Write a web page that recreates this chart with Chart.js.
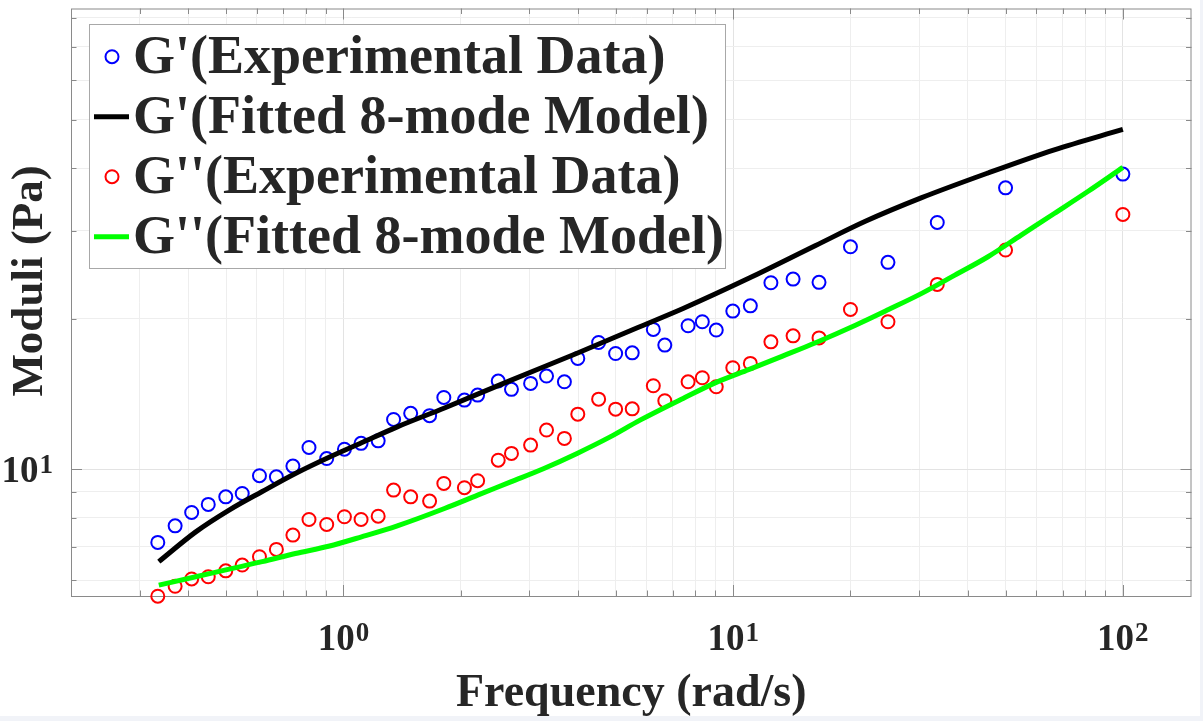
<!DOCTYPE html>
<html>
<head>
<meta charset="utf-8">
<script src="https://cdn.jsdelivr.net/npm/chart.js@4.4.1/dist/chart.umd.min.js"></script>
<style>
  html, body { margin: 0; padding: 0; background: #f1f3f8; }
  #wrap { width: 1200px; height: 716px; background: #fff; }
  canvas { display: block; }
</style>
</head>
<body>
<div id="wrap"><canvas id="moduliChart" width="1200" height="716"></canvas></div>
<script>
    // frequency (rad/s) of the measured points
    const freq = [0.334, 0.370, 0.408, 0.450, 0.499, 0.550, 0.609, 0.673, 0.742, 0.816, 0.906, 1.006, 1.110, 1.228, 1.345,
        1.488, 1.664, 1.810, 2.044, 2.210, 2.496, 2.699, 3.022, 3.320, 3.690, 3.994, 4.517, 4.994, 5.509, 6.240,
        6.678, 7.663, 8.335, 9.051, 9.98, 11.07, 12.50, 14.25, 16.61, 20.0, 24.96, 33.4, 50.0, 100];
    const gPrimeExp = [7.135, 7.70, 8.19, 8.50, 8.80, 8.94, 9.70, 9.65, 10.14, 11.05, 10.50, 10.96, 11.26, 11.39, 12.57,
        12.93, 12.79, 13.91, 13.74, 14.06, 15.00, 14.44, 14.84, 15.35, 14.95, 16.65, 17.92, 17.03, 17.08, 19.03,
        17.70, 19.35, 19.71, 18.97, 20.70, 21.21, 23.59, 23.99, 23.63, 27.84, 25.91, 31.14, 36.52, 38.90];
    const gDoublePrimeExp = [5.57, 5.83, 6.03, 6.09, 6.26, 6.43, 6.68, 6.91, 7.38, 7.93, 7.75, 8.03, 7.93, 8.05, 9.08,
        8.80, 8.63, 9.36, 9.18, 9.48, 10.42, 10.75, 11.17, 11.97, 11.52, 12.88, 13.80, 13.18, 13.20, 14.68,
        13.70, 14.95, 15.23, 14.61, 15.95, 16.27, 17.97, 18.47, 18.30, 20.86, 19.71, 23.41, 27.42, 32.31];

    // fitted 8-mode model curves
    const fitFreqG1 = [0.336, 0.418, 0.509, 0.619, 0.753, 0.916, 1.113, 1.375, 1.817, 2.687, 3.977, 5.657, 7.44, 11.0,
        16.28, 21.84, 30.47, 45.07, 66.68, 100];
    const gPrimeFit = [6.53, 7.49, 8.28, 9.02, 9.80, 10.55, 11.29, 12.15, 13.25, 15.05, 17.05, 19.15, 20.95, 24.1,
        28.0, 31.3, 34.9, 39.1, 43.5, 47.8];
    const fitFreqG2 = [0.336, 0.418, 0.509, 0.619, 0.753, 0.916, 1.113, 1.375, 1.817, 2.210, 2.687, 3.27, 3.977, 4.836,
        5.77, 7.44, 9.051, 11.0, 13.39, 16.28, 20.6, 25.05, 30.47, 37.07, 45.07, 54.83, 66.68, 81.1, 100];
    const gDoublePrimeFit = [5.86, 6.09, 6.31, 6.53, 6.78, 7.01, 7.32, 7.70, 8.34, 8.87, 9.43, 10.03, 10.75, 11.60,
        12.53, 13.85, 14.91, 15.83, 16.83, 17.9, 19.4, 20.85, 22.46, 24.43, 26.59, 29.38, 32.45, 35.86, 40.12];

    // ticks (grid) and the labelled decades
    const xTickValues = [0.3, 0.4, 0.5, 0.6, 0.7, 0.8, 0.9, 1, 2, 3, 4, 5, 6, 7, 8, 9, 10, 20, 30, 40, 50, 60, 70, 80, 90, 100];
    const yTickValues = [6, 7, 8, 9, 10, 20, 30, 40, 50, 60, 70, 80];
    const xLabelValues = [1, 10, 100];
    const xLabelExps = ['0', '1', '2'];
    const yLabelValues = [10];
    const yLabelExps = ['1'];

    const FONT = '"Liberation Serif", "Times New Roman", serif';
    const TEXT = '#262626';
    const AXIS = '#8a8a8a';

    const isDecade = v => Math.abs(Math.log10(v) - Math.round(Math.log10(v))) < 1e-6;
    const pts = (xs, ys) => xs.map((x, i) => ({x: x, y: ys[i]}));

    function drawPow(ctx, base, exp, x, y, align) {
        ctx.font = 'bold 37px ' + FONT;
        const wb = ctx.measureText(base).width;
        ctx.font = 'bold 27px ' + FONT;
        const we = ctx.measureText(exp).width;
        const total = wb + we + 1;
        const left = align === 'center' ? x - total / 2 : x - total;
        ctx.font = 'bold 37px ' + FONT;
        ctx.fillText(base, left, y);
        ctx.font = 'bold 27px ' + FONT;
        ctx.fillText(exp, left + wb + 1, y - 9);
    }

    // box, inward ticks on all sides (matlab look)
    const matlabAxes = {
        id: 'matlabAxes',
        beforeDatasetsDraw(chart) {
            const {ctx, chartArea: a, scales: {x, y}} = chart;
            ctx.save();
            ctx.strokeStyle = AXIS;
            ctx.lineWidth = 1;
            ctx.beginPath();
            x.ticks.forEach(t => {
                const px = Math.round(x.getPixelForValue(t.value)) + 0.5;
                const len = isDecade(t.value) ? 11 : 5.5;
                ctx.moveTo(px, a.bottom); ctx.lineTo(px, a.bottom - len);
                ctx.moveTo(px, a.top); ctx.lineTo(px, a.top + len);
            });
            y.ticks.forEach(t => {
                const py = Math.round(y.getPixelForValue(t.value)) + 0.5;
                const len = isDecade(t.value) ? 11 : 5.5;
                ctx.moveTo(a.left, py); ctx.lineTo(a.left + len, py);
                ctx.moveTo(a.right, py); ctx.lineTo(a.right - len, py);
            });
            ctx.stroke();
            ctx.strokeRect(a.left + 0.5, a.top + 0.5, a.right - a.left - 1, a.bottom - a.top);
            ctx.restore();
        },
        afterDraw(chart) {
            const {ctx, chartArea: a, scales: {x, y}} = chart;
            ctx.save();
            ctx.fillStyle = TEXT;
            ctx.textAlign = 'left';
            ctx.textBaseline = 'alphabetic';
            xLabelValues.forEach((v, i) => drawPow(ctx, '10', xLabelExps[i], x.getPixelForValue(v), 650, 'center'));
            yLabelValues.forEach((v, i) => drawPow(ctx, '10', yLabelExps[i], 53, y.getPixelForValue(v) + 13, 'right'));

            ctx.font = 'bold 46px ' + FONT;
            ctx.textAlign = 'center';
            ctx.fillText('Frequency (rad/s)', (a.left + a.right) / 2, 706);
            ctx.font = 'bold 45px ' + FONT;
            ctx.translate(42, 281);
            ctx.rotate(-Math.PI / 2);
            ctx.fillText('Moduli (Pa)', 0, 0);
            ctx.restore();
        }
    };

    // legend box in the upper left corner
    const matlabLegend = {
        id: 'matlabLegend',
        afterDraw(chart) {
            const ctx = chart.ctx;
            ctx.save();
            ctx.fillStyle = '#ffffff';
            ctx.fillRect(89, 24, 636, 244);
            ctx.strokeStyle = '#a8a8a8';
            ctx.lineWidth = 1;
            ctx.strokeRect(89.5, 24.5, 636, 244);
            chart.data.datasets.forEach((ds, i) => {
                const cy = 56.7 + 60 * i;
                if (ds.showLine) {
                    ctx.strokeStyle = ds.borderColor;
                    ctx.lineWidth = ds.borderWidth;
                    ctx.beginPath();
                    ctx.moveTo(94, cy); ctx.lineTo(129, cy);
                    ctx.stroke();
                } else {
                    ctx.strokeStyle = ds.borderColor;
                    ctx.lineWidth = 2;
                    ctx.beginPath();
                    ctx.arc(112, cy, 6.5, 0, Math.PI * 2);
                    ctx.stroke();
                }
                ctx.fillStyle = TEXT;
                ctx.font = 'bold 54px ' + FONT;
                ctx.textAlign = 'left';
                ctx.textBaseline = 'alphabetic';
                ctx.fillText(ds.label, 133, cy + 16);
            });
            ctx.restore();
        }
    };

    const gridColor = c => (c.tick && isDecade(c.tick.value)) ? '#e3e3e3' : '#eeeeee';

    new Chart(document.getElementById('moduliChart').getContext('2d'), {
        type: 'scatter',
        data: {
            datasets: [{
                label: "G'(Experimental Data)",
                data: pts(freq, gPrimeExp),
                showLine: false,
                borderColor: '#0000ff',
                backgroundColor: 'rgba(0,0,0,0)',
                pointRadius: 6.5,
                pointHoverRadius: 6.5,
                pointBorderWidth: 2,
                order: 4,
                clip: false
            }, {
                label: "G'(Fitted 8-mode Model)",
                data: pts(fitFreqG1, gPrimeFit),
                showLine: true,
                borderColor: '#000000',
                borderWidth: 5,
                pointRadius: 0,
                cubicInterpolationMode: 'monotone',
                order: 3,
                clip: false
            }, {
                label: "G''(Experimental Data)",
                data: pts(freq, gDoublePrimeExp),
                showLine: false,
                borderColor: '#ff0000',
                backgroundColor: 'rgba(0,0,0,0)',
                pointRadius: 6.5,
                pointHoverRadius: 6.5,
                pointBorderWidth: 2,
                order: 2,
                clip: false
            }, {
                label: "G''(Fitted 8-mode Model)",
                data: pts(fitFreqG2, gDoublePrimeFit),
                showLine: true,
                borderColor: '#00ff00',
                borderWidth: 5,
                pointRadius: 0,
                cubicInterpolationMode: 'monotone',
                order: 1,
                clip: false
            }]
        },
        options: {
            responsive: false,
            animation: false,
            devicePixelRatio: 1,
            events: [],
            layout: { padding: { top: 8, right: 2, left: 0, bottom: 0 } },
            plugins: { legend: { display: false }, tooltip: { enabled: false } },
            scales: {
                x: {
                    type: 'logarithmic',
                    position: 'bottom',
                    min: 0.2,
                    max: 150,
                    afterBuildTicks: s => { s.ticks = xTickValues.map(v => ({value: v, major: isDecade(v)})); },
                    afterFit: s => { s.height = 120; },
                    ticks: { display: false },
                    grid: { color: gridColor, lineWidth: 1, drawTicks: false },
                    border: { display: false }
                },
                y: {
                    type: 'logarithmic',
                    min: 5.575,
                    max: 83.4,
                    afterBuildTicks: s => { s.ticks = yTickValues.map(v => ({value: v, major: isDecade(v)})); },
                    afterFit: s => { s.width = 71; },
                    ticks: { display: false },
                    grid: { color: gridColor, lineWidth: 1, drawTicks: false },
                    border: { display: false }
                }
            }
        },
        plugins: [matlabAxes, matlabLegend]
    });
</script>
</body>
</html>
